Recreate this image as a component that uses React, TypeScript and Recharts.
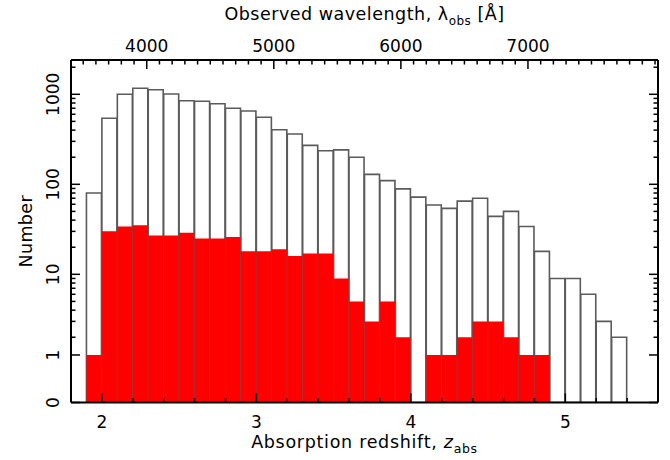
import React from "react"
import { ComposedChart, Bar, XAxis, YAxis } from "recharts"

// histogram bins, 0.1 wide in z (centres)
const binCenters = [
  1.95, 2.05, 2.15, 2.25, 2.35, 2.45, 2.55, 2.65, 2.75, 2.85, 2.95, 3.05, 3.15, 3.25, 3.35, 3.45, 3.55, 3.65,
  3.75, 3.85, 3.95, 4.05, 4.15, 4.25, 4.35, 4.45, 4.55, 4.65, 4.75, 4.85, 4.95, 5.05, 5.15, 5.25, 5.35,
]
const allCounts = [
  80, 541, 1000, 1166, 1125, 1008, 849, 836, 786, 699, 652, 555, 404, 362, 271, 236, 241, 200, 129, 110, 89, 72,
  59, 54, 65, 70, 44, 50, 34, 18, 9, 9, 6, 3, 2,
]
const redCounts = [
  1, 30, 34, 35, 27, 27, 29, 25, 25, 26, 18, 18, 19, 16, 17, 17, 9, 5, 3, 5, 2, 0, 1, 1, 2, 3, 3, 2, 1, 1, 0, 0,
  0, 0, 0,
]

const zTicks = [2, 2.2, 2.4, 2.6, 2.8, 3, 3.2, 3.4, 3.6, 3.8, 4, 4.2, 4.4, 4.6, 4.8, 5, 5.2, 5.4]
const zLabels = [2, 3, 4, 5]
const lamLabels = [4000, 5000, 6000, 7000]
const lamMinorStep = 100
const countTicks = [
  0, 1, 2, 3, 4, 5, 6, 7, 8, 9, 10, 20, 30, 40, 50, 60, 70, 80, 90, 100, 200, 300, 400, 500, 600, 700, 800, 900,
  1000, 2000,
]
const countLabels = [0, 1, 10, 100, 1000]

const LYA = 1215.67
const Z_MIN = 1.8
const Z_MAX = 5.6

// log axis, with "1" nudged up and a "0" floor under it
const FLOOR = 0.424
const ONE_LEVEL = 0.528
const Y_TOP = 3.805
const yPos = (n: number) => {
  if (n >= 2) return Math.log10(n) + FLOOR
  if (n >= 1) return ONE_LEVEL + (n - 1) * (Math.log10(2) + FLOOR - ONE_LEVEL)
  return n * ONE_LEVEL
}
const countOf = (v: number) => countTicks.find((c) => Math.abs(yPos(c) - v) < 1e-6) ?? 0

const data = binCenters.map((z, i) => ({
  z,
  all: yPos(allCounts[i]),
  red: redCounts[i] > 0 ? yPos(redCounts[i]) : null,
}))

// observed Lya wavelength ticks, placed on the z scale
const lamTicks: number[] = []
for (let l = 3500; l <= 8000; l += lamMinorStep) lamTicks.push(l / LYA - 1)
const lamOf = (z: number) => Math.round((LYA * (1 + z)) / lamMinorStep) * lamMinorStep

const FONT = "DejaVu Sans"
const MAJOR = 9
const MINOR = 4.5

const LeftTick = (p: any) => {
  const { x, y, payload } = p
  const n = countOf(payload.value)
  const major = countLabels.includes(n)
  return (
    <g>
      <line x1={x} x2={x + (major ? MAJOR : MINOR)} y1={y} y2={y} stroke="#000" strokeWidth={1.5} />
      {major && (
        <text
          transform={`translate(${x - 12},${y}) rotate(-90)`}
          textAnchor="middle"
          fontSize={17}
          fontFamily={FONT}
          fill="#000"
        >
          {n}
        </text>
      )}
    </g>
  )
}

const RightTick = (p: any) => {
  const { x, y, payload } = p
  const major = countLabels.includes(countOf(payload.value))
  return <line x1={x} x2={x - (major ? MAJOR : MINOR)} y1={y} y2={y} stroke="#000" strokeWidth={1.5} />
}

const BottomTick = (p: any) => {
  const { x, y, payload } = p
  const major = zLabels.includes(payload.value)
  return (
    <g>
      <line x1={x} x2={x} y1={y} y2={y - (major ? MAJOR : MINOR)} stroke="#000" strokeWidth={1.5} />
      {major && (
        <text x={x} y={y + 25.5} textAnchor="middle" fontSize={17} fontFamily={FONT} fill="#000">
          {payload.value}
        </text>
      )}
    </g>
  )
}

const TopTick = (p: any) => {
  const { x, y, payload } = p
  const lam = lamOf(payload.value)
  const major = lamLabels.includes(lam)
  return (
    <g>
      <line x1={x} x2={x} y1={y} y2={y + (major ? MAJOR : MINOR)} stroke="#000" strokeWidth={1.5} />
      {major && (
        <text x={x} y={y - 8.3} textAnchor="middle" fontSize={17} fontFamily={FONT} fill="#000">
          {lam}
        </text>
      )}
    </g>
  )
}

const TopTitle = (p: any) => {
  const vb = p.viewBox
  return (
    <text
      x={vb.x + vb.width / 2}
      y={20}
      textAnchor="middle"
      fontSize={17.5}
      letterSpacing={0.5}
      fontFamily={FONT}
      fill="#000"
    >
      Observed wavelength, λ
      <tspan fontSize={12} dy={5}>obs</tspan>
      <tspan dy={-5}> [Å]</tspan>
    </text>
  )
}

const BottomTitle = (p: any) => {
  const vb = p.viewBox
  return (
    <text
      x={vb.x + vb.width / 2}
      y={vb.y + 45.5}
      textAnchor="middle"
      fontSize={17.5}
      letterSpacing={0.7}
      fontFamily={FONT}
      fill="#000"
    >
      Absorption redshift,{" "}
      <tspan fontStyle="italic">z</tspan>
      <tspan fontSize={12.5} dy={4.5}>abs</tspan>
    </text>
  )
}

const LeftTitle = (p: any) => {
  const vb = p.viewBox
  return (
    <text
      transform={`translate(32,${vb.y + vb.height / 2}) rotate(-90)`}
      textAnchor="middle"
      fontSize={17.5}
      letterSpacing={0.4}
      fontFamily={FONT}
      fill="#000"
    >
      Number
    </text>
  )
}

const axisLine = { stroke: "#000", strokeWidth: 2 }

export default function App() {
  return (
    <div style={{ position: "absolute", left: 0, top: 0, width: 670, height: 460, background: "#fff" }}>
      <ComposedChart
        width={670}
        height={460}
        data={data}
        margin={{ top: 0, right: 0, bottom: 0, left: 0 }}
        barCategoryGap={0}
        barGap={0}
      >
        <Bar
          dataKey="all"
          xAxisId="z"
          yAxisId="n"
          fill="#fff"
          stroke="#5b5b5b"
          strokeWidth={1.6}
          isAnimationActive={false}
        />
        <Bar dataKey="red" xAxisId="z2" yAxisId="n" fill="#ff0000" isAnimationActive={false} />
        <XAxis xAxisId="z2" dataKey="z" type="number" domain={[Z_MIN, Z_MAX]} allowDataOverflow hide />
        <XAxis
          xAxisId="z"
          dataKey="z"
          type="number"
          orientation="bottom"
          domain={[Z_MIN, Z_MAX]}
          allowDataOverflow
          ticks={zTicks}
          interval={0}
          height={57.5}
          tickSize={0}
          tickMargin={0}
          tickLine={false}
          axisLine={axisLine}
          tick={BottomTick}
          label={BottomTitle}
        />
        <XAxis
          xAxisId="lam"
          dataKey="z"
          type="number"
          orientation="top"
          domain={[Z_MIN, Z_MAX]}
          allowDataOverflow
          ticks={lamTicks}
          interval={0}
          height={60}
          tickSize={0}
          tickMargin={0}
          tickLine={false}
          axisLine={axisLine}
          tick={TopTick}
          label={TopTitle}
        />
        <YAxis
          yAxisId="n"
          type="number"
          orientation="left"
          domain={[0, Y_TOP]}
          allowDataOverflow
          ticks={countTicks.map(yPos)}
          interval={0}
          width={71}
          tickSize={0}
          tickMargin={0}
          tickLine={false}
          axisLine={axisLine}
          tick={LeftTick}
          label={LeftTitle}
        />
        <YAxis
          yAxisId="nr"
          type="number"
          orientation="right"
          domain={[0, Y_TOP]}
          allowDataOverflow
          ticks={countTicks.map(yPos)}
          interval={0}
          width={12}
          tickSize={0}
          tickMargin={0}
          tickLine={false}
          axisLine={axisLine}
          tick={RightTick}
        />
      </ComposedChart>
    </div>
  )
}
